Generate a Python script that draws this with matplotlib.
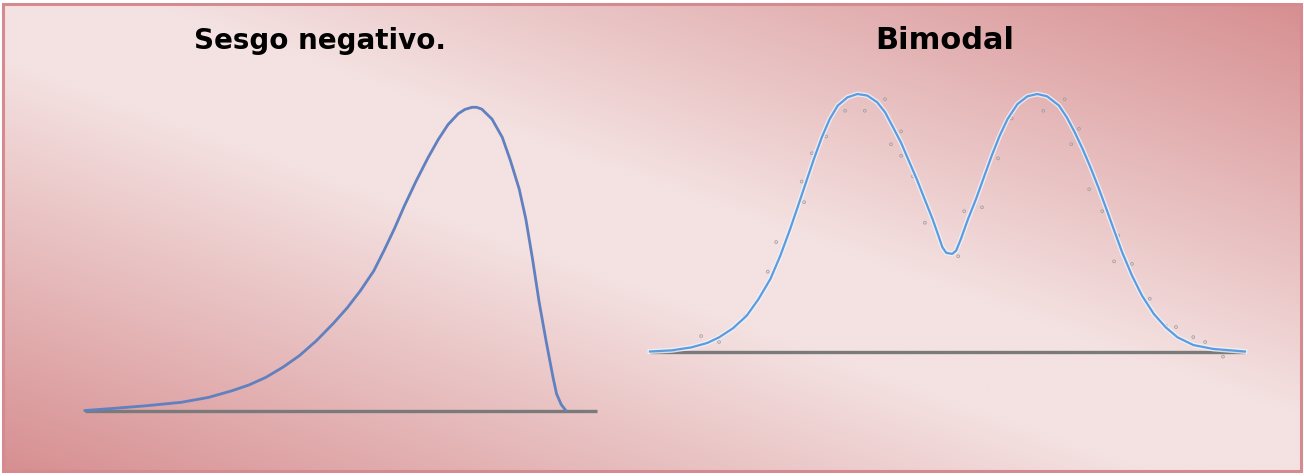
import numpy as np
import matplotlib
matplotlib.use('Agg')
import matplotlib.pyplot as plt
from matplotlib.patches import Rectangle

# curve shapes (x: 0-10 along the base line, y: height, peak = 1)
skew_x = [0.0, 0.56, 1.22, 1.88, 2.41, 2.87, 3.20, 3.53, 3.86, 4.19, 4.52, 4.85, 5.12,
          5.38, 5.64, 5.84, 6.04, 6.24, 6.47, 6.70, 6.90, 7.09, 7.29, 7.42, 7.56, 7.65,
          7.75, 7.95, 8.15, 8.31, 8.48, 8.61, 8.74, 8.87, 9.01, 9.14, 9.21, 9.30, 9.39]
skew_y = [0.0, 0.007, 0.016, 0.027, 0.043, 0.065, 0.084, 0.109, 0.142, 0.181, 0.23, 0.287,
          0.338, 0.395, 0.46, 0.527, 0.598, 0.675, 0.757, 0.833, 0.893, 0.942, 0.978, 0.992,
          0.999, 0.999, 0.993, 0.96, 0.90, 0.823, 0.73, 0.631, 0.50, 0.357, 0.225, 0.11,
          0.055, 0.02, 0.0]

bimodal_x = [0.0, 0.363, 0.696, 0.961, 1.161, 1.393, 1.625, 1.825, 2.024, 2.190, 2.356,
             2.489, 2.622, 2.755, 2.888, 3.021, 3.155, 3.319, 3.486, 3.652, 3.818, 3.951,
             4.084, 4.217, 4.349, 4.482, 4.615, 4.748, 4.847, 4.914, 4.98, 5.08, 5.146,
             5.225, 5.346, 5.479, 5.612, 5.744, 5.877, 6.010, 6.176, 6.343, 6.508, 6.674,
             6.874, 7.006, 7.139, 7.272, 7.405, 7.538, 7.671, 7.804, 7.936, 8.102, 8.269,
             8.467, 8.667, 8.866, 9.133, 9.464, 10.0]
bimodal_y = [0.0, 0.0045, 0.016, 0.033, 0.055, 0.09, 0.139, 0.204, 0.282, 0.372, 0.476,
             0.566, 0.657, 0.748, 0.832, 0.903, 0.955, 0.987, 1.0, 0.994, 0.968, 0.929,
             0.871, 0.812, 0.741, 0.67, 0.592, 0.515, 0.45, 0.405, 0.383, 0.379, 0.392,
             0.437, 0.515, 0.592, 0.677, 0.761, 0.838, 0.903, 0.961, 0.991, 1.0, 0.991,
             0.955, 0.909, 0.851, 0.786, 0.714, 0.636, 0.553, 0.468, 0.385, 0.294, 0.217,
             0.146, 0.094, 0.055, 0.025, 0.01, 0.0]

# stray sample dots around the bimodal curve
dots_x = [0.86, 1.16, 1.43, 1.60, 1.98, 2.12, 2.55, 2.59, 2.72, 2.96, 3.28, 3.61, 3.95,
          4.05, 4.22, 4.22, 4.42, 4.62, 5.18, 5.28, 5.58, 5.85, 6.08, 6.61, 6.97, 7.08,
          7.21, 7.34, 7.38, 7.60, 7.80, 7.87, 8.10, 8.40, 8.67, 8.84, 9.13, 9.33, 9.63]
dots_y = [0.06, 0.037, 0.095, 0.138, 0.31, 0.425, 0.66, 0.58, 0.77, 0.835, 0.935, 0.935, 0.98,
          0.805, 0.855, 0.76, 0.68, 0.50, 0.37, 0.545, 0.56, 0.75, 0.905, 0.935, 0.98, 0.805,
          0.865, 0.755, 0.63, 0.545, 0.35, 0.45, 0.34, 0.205, 0.10, 0.095, 0.056, 0.037, -0.02]

titles = ['Sesgo negativo.', 'Bimodal']

W, H = 1304, 477
fig = plt.figure(figsize=(W / 100, H / 100), dpi=100)
fig.patch.set_facecolor('white')

# background panel with diagonal pink gradient
bg = fig.add_axes([0, 0, 1, 1])
bg.set_xlim(0, W)
bg.set_ylim(H, 0)
bg.axis('off')
xn, yn = np.meshgrid(np.linspace(0, 1, 400), np.linspace(0, 1, 150))
d = np.abs(xn - yn)
t = np.clip((d - 0.12) / 0.88, 0, 1)
light = np.array([244, 225, 225]) / 255
dark = np.array([215, 143, 145]) / 255
grad = light[None, None, :] * (1 - t[..., None]) + dark[None, None, :] * t[..., None]
bg.imshow(grad, extent=(3, 1301, 472, 5), aspect='auto', interpolation='bilinear', zorder=0)
bg.add_patch(Rectangle((3, 5), 1298, 467, fill=False, edgecolor='#d48a8e', lw=2.2, zorder=1))

# left panel: negative skew
ax1 = fig.add_axes([85 / W, 1 - 411.5 / H, 512 / W, (411.5 - 108) / H])
ax1.set_xlim(0, 10)
ax1.set_ylim(0, 1)
ax1.axis('off')
ax1.plot([0, 10], [0, 0], color='#7a7a7a', lw=2.4, solid_capstyle='butt', clip_on=False)
ax1.plot(skew_x, skew_y, color='#6080bf', lw=2.0, clip_on=False,
         solid_joinstyle='round')

# right panel: bimodal
ax2 = fig.add_axes([650 / W, 1 - 352.5 / H, 595 / W, (352.5 - 95) / H])
ax2.set_xlim(0, 10)
ax2.set_ylim(0, 1)
ax2.axis('off')
ax2.plot([0, 10], [0, 0], color='#7a7a7a', lw=2.4, solid_capstyle='butt', clip_on=False)
ax2.scatter(dots_x, dots_y, s=4, facecolors='none', edgecolors='#a0a0a0', linewidths=0.6,
            clip_on=False, zorder=2)
ax2.plot(bimodal_x, bimodal_y, color='#eef4fb', lw=3.6, alpha=0.8, clip_on=False,
         solid_joinstyle='round', zorder=3)
ax2.plot(bimodal_x, bimodal_y, color='#5b9be0', lw=1.6, clip_on=False,
         solid_joinstyle='round', zorder=4)

fig.text(320 / W, 1 - 49 / H, titles[0], ha='center', va='baseline',
         fontsize=20, fontweight='bold', color='black')
fig.text(945 / W, 1 - 49 / H, titles[1], ha='center', va='baseline',
         fontsize=22, fontweight='bold', color='black')

fig.savefig('out.png', dpi=100, facecolor='white')
